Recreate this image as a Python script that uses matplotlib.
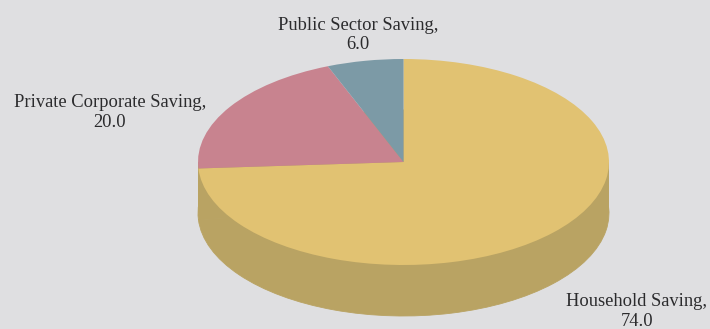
import matplotlib
matplotlib.use('Agg')
import matplotlib.pyplot as plt
from matplotlib.patches import Rectangle

categories = ['Household Saving', 'Private Corporate Saving', 'Public Sector Saving']
values = [74.0, 20.0, 6.0]
colors = ['#E1C272', '#C8838F', '#7C9AA6']
wall_color = '#B9A363'
bg = '#DFDFE1'

plt.rcParams['font.family'] = ['Liberation Serif', 'DejaVu Serif']

W, H = 710, 329
fig = plt.figure(figsize=(W / 100, H / 100), dpi=100, facecolor=bg)

# axes box is the top ellipse of the pie, so the unit circle gets squashed
cx, cy, rx, ry = 403.5, 162, 205.5, 103
depth = 51 / ry
ax = fig.add_axes([(cx - rx) / W, 1 - (cy + ry) / H, 2 * rx / W, 2 * ry / H])

# side wall: same pie shifted down plus a block joining both outlines
ax.pie(values, colors=[wall_color] * 3, startangle=90, counterclock=False,
       center=(0, -depth), wedgeprops={'linewidth': 0.6, 'edgecolor': wall_color})
ax.add_patch(Rectangle((-1, -depth), 2, depth, color=wall_color, lw=0, zorder=0.5))
ax.pie(values, colors=colors, startangle=90, counterclock=False)

ax.set_aspect('auto')
ax.set_xlim(-1, 1)
ax.set_ylim(-1, 1)
ax.axis('off')

# labels sit outside the axes, placed in figure pixels
label_pos = [(637, 311.5), (110, 112.5), (358, 35)]
for name, val, (x, y) in zip(categories, values, label_pos):
    fig.text(x / W, 1 - y / H, f'{name},\n{val:.1f}', ha='center', va='center',
             fontsize=13.3, color='#2B2B2D', linespacing=1.22)

fig.savefig('out.png', dpi=100, facecolor=bg)
